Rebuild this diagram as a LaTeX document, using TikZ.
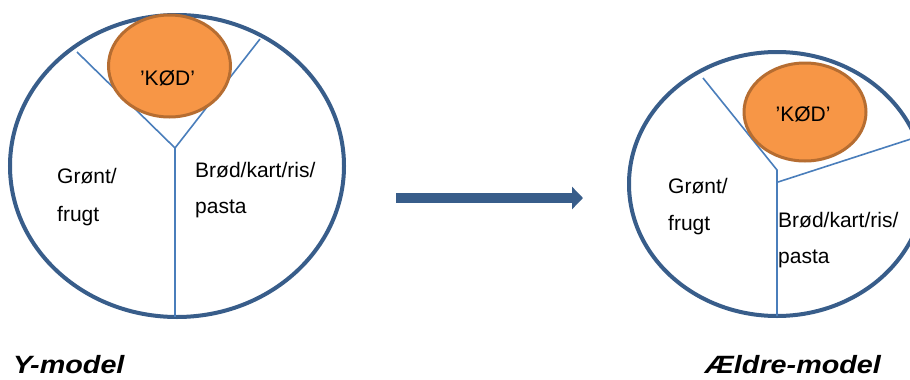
\documentclass[tikz,border=0pt]{standalone}
\usepackage{fontspec}
\setmainfont{Liberation Sans}
\newfontfamily\capfont[FakeStretch=1.15]{Liberation Sans}
\usetikzlibrary{arrows.meta}
\definecolor{rim}{HTML}{385D8A}
\definecolor{divider}{HTML}{4A7EBB}
\definecolor{meatfill}{HTML}{F79646}
\definecolor{meatline}{HTML}{B66D31}
\tikzset{
  plate/.style={draw=rim, line width=4pt},
  divline/.style={draw=divider, line width=1.6pt},
  meat/.style={draw=meatline, fill=meatfill, line width=3pt},
  food/.style={anchor=base west, inner sep=0pt, font=\fontsize{21}{25}\selectfont},
  meattext/.style={anchor=base, inner sep=0pt, font=\fontsize{21}{25}\selectfont},
  caption/.style={anchor=base west, inner sep=0pt, font=\capfont\bfseries\itshape\fontsize{25}{30}\selectfont},
  bigarrow/.style={draw=rim, line width=10pt, -{Triangle[length=11pt,width=22pt]}}
}
\begin{document}
\begin{tikzpicture}[x=1pt,y=-1pt]
\useasboundingbox (0,0) rectangle (910,380);
\clip (0,0) rectangle (910,380);
\fill[white] (0,0) rectangle (910,380);

% ---- left plate (Y-model)
\draw[plate] (177,166) ellipse [x radius=167, y radius=151];
\coordinate (LA) at (77,52);
\coordinate (LB) at (260,39);
\coordinate (LJ) at (175,148);
\coordinate (LD) at (175,317);
\draw[divline] (LA) -- (LJ) -- (LB);
\draw[divline] (LJ) -- (LD);
\draw[meat] (169.5,66) ellipse [x radius=61, y radius=51];
\node[meattext] (lmeat) at (167.5,85) {’KØD’};
\node[food] (lg1) at (57,183) {Grønt/};
\node[food] (lg2) at (57,221) {frugt};
\node[food] (lb1) at (195,177) {Brød/kart/ris/};
\node[food] (lb2) at (195,213) {pasta};

% ---- arrow
\coordinate (AS) at (396,198);
\coordinate (AE) at (583,198);
\draw[bigarrow] (AS) -- (AE);

% ---- right plate (Ældre-model)
\draw[plate] (777,184) ellipse [x radius=148, y radius=132];
\coordinate (RA) at (703,78);
\coordinate (RJ) at (777,170);
\coordinate (RJ2) at (778,182);
\coordinate (RD) at (777,316);
\coordinate (RE) at (914,138);
\draw[divline] (RA) -- (RJ) -- (RD);
\draw[divline] (RJ2) -- (RE);
\draw[meat] (805,112) ellipse [x radius=61, y radius=49];
\node[meattext] (rmeat) at (803,121) {’KØD’};
\node[food] (rg1) at (668,193) {Grønt/};
\node[food] (rg2) at (668,230) {frugt};
\node[food] (rb1) at (778,227) {Brød/kart/ris/};
\node[food] (rb2) at (778,263) {pasta};

% ---- captions
\node[caption] (ycap) at (13,373) {Y-model};
\node[caption] (ecap) at (705,373) {Ældre-model};
\end{tikzpicture}
\end{document}
